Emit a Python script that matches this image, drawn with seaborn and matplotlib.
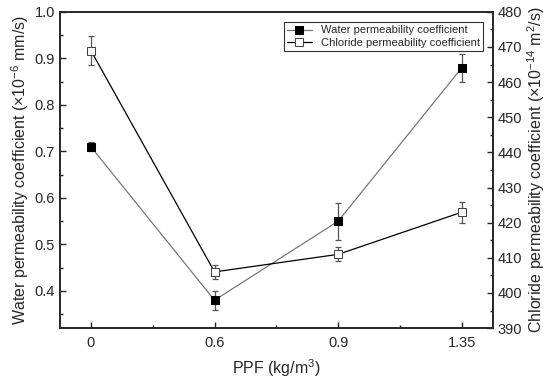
import pandas as pd
import matplotlib.pyplot as plt
from matplotlib.ticker import MultipleLocator
import seaborn as sns

ppf_labels = ["0", "0.6", "0.9", "1.35"]
water = [0.71, 0.38, 0.55, 0.88]
water_err = [0.01, 0.02, 0.04, 0.03]
chloride = [469, 406, 411, 423]
chloride_err = [4, 2, 2, 3]

df = pd.DataFrame({"pos": range(len(ppf_labels)), "ppf": ppf_labels,
                   "water": water, "chloride": chloride})

sns.set_style("ticks")
plt.rcParams["font.family"] = ["Liberation Sans", "DejaVu Sans"]
plt.rcParams["mathtext.fontset"] = "custom"
plt.rcParams["mathtext.rm"] = "Liberation Sans"
plt.rcParams["xtick.direction"] = "in"
plt.rcParams["ytick.direction"] = "in"

fig = plt.figure(figsize=(5.5, 3.82), dpi=100)
ax = fig.add_axes([0.109, 0.141, 0.787, 0.828])
ax2 = ax.twinx()

# water on left axis
ax.errorbar(df["pos"], df["water"], yerr=water_err, fmt="none", ecolor="#555555",
            elinewidth=0.9, capsize=2.5, capthick=0.9, zorder=2)
sns.lineplot(data=df, x="pos", y="water", ax=ax, color="#777777", linewidth=0.9,
             marker="s", markersize=5.5, markerfacecolor="black", markeredgecolor="black",
             label="Water permeability coefficient", legend=False, zorder=3)

# chloride on right axis
ax2.errorbar(df["pos"], df["chloride"], yerr=chloride_err, fmt="none", ecolor="#555555",
             elinewidth=0.9, capsize=2.5, capthick=0.9, zorder=2)
sns.lineplot(data=df, x="pos", y="chloride", ax=ax2, color="black", linewidth=0.9,
             marker="s", markersize=5.5, markerfacecolor="white", markeredgecolor="#444444",
             label="Chloride permeability coefficient", legend=False, zorder=3)

ax.set_xlim(-0.25, 3.25)
ax.set_ylim(0.32, 1.0)
ax2.set_ylim(390, 480)
ax.set_xticks(df["pos"])
ax.set_xticklabels(ppf_labels)
ax.xaxis.set_minor_locator(MultipleLocator(0.5))
ax.yaxis.set_major_locator(MultipleLocator(0.1))
ax.yaxis.set_minor_locator(MultipleLocator(0.05))
ax2.yaxis.set_major_locator(MultipleLocator(10))
ax2.yaxis.set_minor_locator(MultipleLocator(5))

for a in (ax, ax2):
    a.tick_params(which="major", length=4, width=1, labelsize=10.5)
    a.tick_params(which="minor", length=2, width=1)
    for sp in a.spines.values():
        sp.set_linewidth(1.2)
ax.tick_params(axis="x", pad=6)

ax.set_xlabel("PPF (kg/m$^3$)", fontsize=11.5, labelpad=5)
ax.set_ylabel("Water permeability coefficient ($\\times$10$^{-6}$ mm/s)", fontsize=11.5, labelpad=3)
ax2.set_ylabel("Chloride permeability coefficient ($\\times$10$^{-14}$ m$^2$/s)", fontsize=11.5, labelpad=2)

h1, l1 = ax.get_legend_handles_labels()
h2, l2 = ax2.get_legend_handles_labels()
leg = ax2.legend(h1 + h2, l1 + l2, loc="upper right", fontsize=8, frameon=True,
                 fancybox=False, edgecolor="black", borderpad=0.3, handlelength=2.2,
                 labelspacing=0.2, bbox_to_anchor=(0.99, 0.985))
leg.get_frame().set_linewidth(0.8)

plt.savefig("out.png", dpi=100)
